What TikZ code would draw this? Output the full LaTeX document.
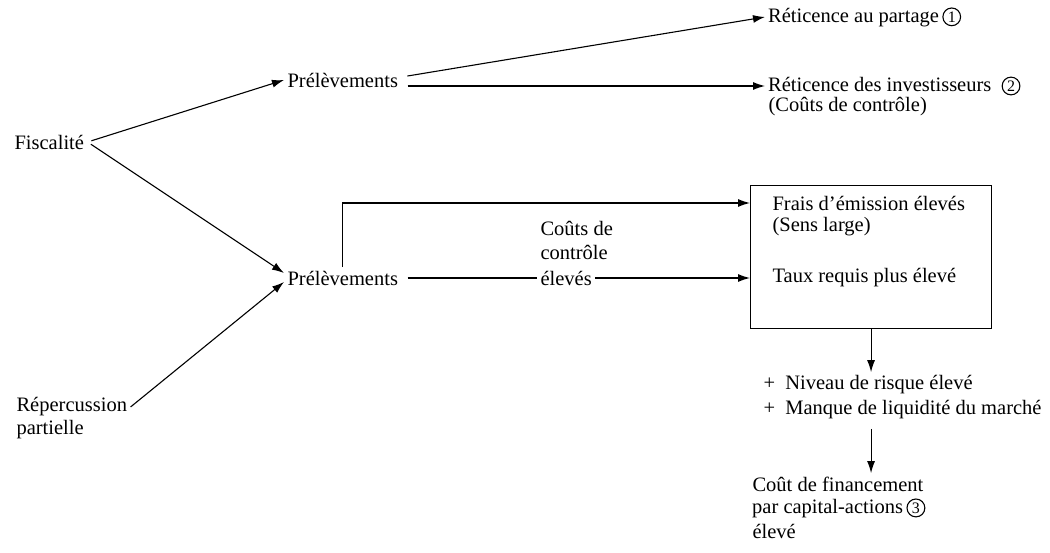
\documentclass[tikz,border=0pt]{standalone}
\usepackage{fontspec}
\setmainfont{Liberation Serif}
\usetikzlibrary{arrows.meta,positioning}
\newcommand{\cnum}[1]{\tikz[baseline=(cn.base)]\node[draw,circle,line width=1.1pt,inner sep=1.6pt,font=\fontsize{16}{16}\selectfont](cn){#1};}

\begin{document}
\begin{tikzpicture}[x=1pt,y=-1pt,line width=1.1pt,
		txt/.style={anchor=west,inner sep=3pt,font=\fontsize{20.5}{24}\selectfont},
		arr/.style={-{Latex[length=12pt,width=8pt]}}]
		\useasboundingbox (0,0) rectangle (1050,553);
		% left side
		\node [txt] (fisc) at (11,142) {Fiscalité};
		\node [txt] (reper) at (13,407) {Répercussion};
		\node [txt] (reperB) at (13,430) {partielle};
		\node [txt] (prelA) at (284,80) {Prélèvements};
		\node [txt] (prelB) at (284,278) {Prélèvements};
		% right side, top
		\node [txt] (retA) at (765,17) {Réticence au partage\,\cnum{1}};
		\node [txt] (retB) at (765,86) {Réticence des investisseurs\ \ \cnum{2}};
		\node [txt] (retBb) at (765,107) {(Coûts de contrôle)};
		% box
		\node [draw,anchor=north west,inner sep=0pt,minimum width=241pt,minimum height=143pt] (box) at (750,185) {};
		\node [txt] (frais) at (769,203) {Frais d'émission élevés};
		\node [txt] (sens) at (769,227) {(Sens large)};
		\node [txt] (taux) at (769,278) {Taux requis plus élevé};
		% label on the lower line
		\node [txt] (ctrlA) at (537,228) {Coûts de};
		\node [txt] (ctrlB) at (537,252) {contrôle};
		\node [txt] (ctrlC) at (537,278) {élevés};
		% bottom
		\node [txt] (risk) at (760,385) {+\ \ Niveau de risque élevé};
		\node [txt] (liq) at (760,410) {+\ \ Manque de liquidité du marché};
		\node [txt] (coutA) at (749,484) {Coût de financement};
		\node [txt] (coutB) at (749,508) {par capital-actions\,\cnum{3}};
		\node [txt] (coutC) at (749,531) {élevé};
		% connectors
		\draw [arr,shorten <=4pt] (fisc.east) -- ([yshift=5pt]prelB.west);
		\draw [arr,shorten <=4pt] (fisc.east) -- (prelA.west);
		\draw [arr] (reper.east) -- ([yshift=-4pt]prelB.west);
		\draw [arr,shorten <=6pt] ([yshift=3pt]prelA.east) -- (retA.west);
		\draw [arr,shorten <=6pt] ([yshift=-6pt]prelA.east) -- (retB.west);
		\draw [arr] (prelB.north) |- (box.west |- frais.west);
		\draw [shorten <=6pt] (prelB.east) -- (ctrlC.west);
		\draw [arr] (ctrlC.east) -- (box.west |- ctrlC.east);
		\draw [arr] (box.south) -- (risk.north -| box.south);
		\draw [arr,shorten <=6pt] (liq.south -| box.south) -- (coutA.north -| box.south);
	\end{tikzpicture}
\end{document}
